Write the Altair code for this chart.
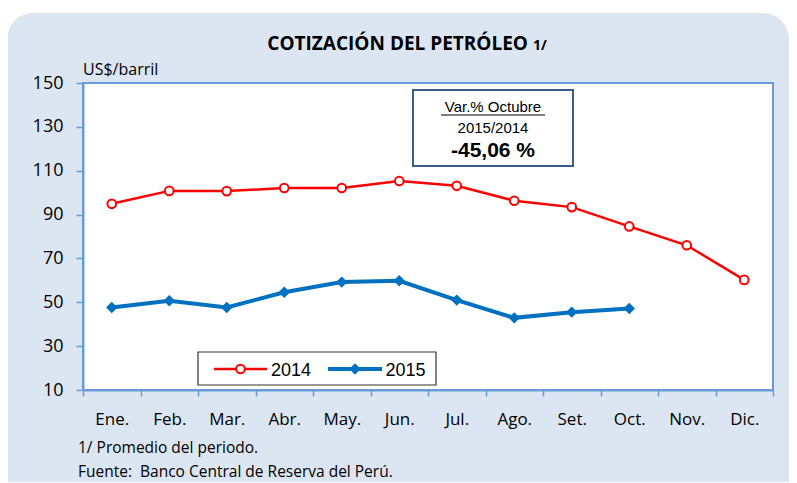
import altair as alt
import pandas as pd

months = ["Ene.", "Feb.", "Mar.", "Abr.", "May.", "Jun.", "Jul.", "Ago.", "Set.", "Oct.", "Nov.", "Dic."]
y2014 = [94.9, 100.8, 100.7, 102.1, 102.1, 105.3, 103.1, 96.3, 93.4, 84.6, 76.0, 60.2]
y2015 = [47.6, 50.7, 47.6, 54.6, 59.2, 59.8, 51.0, 42.9, 45.5, 47.2]
y_ticks = [10, 30, 50, 70, 90, 110, 130, 150]
legend_labels = ["2014", "2015"]
box_lines = ["Var.% Octubre", "2015/2014", "-45,06 %"]
title_text = "COTIZACIÓN DEL PETRÓLEO"
title_note = "1/"
unit_text = "US$/barril"
notes = ["1/ Promedio del periodo.", "Fuente:\u00a0 Banco Central de Reserva del Perú."]

W, H = 690, 307
FONT = "Open Sans"
ARIAL = "Liberation Sans"
AXIS_COLOR = "#6A9AD9"
PANEL = "#DCE6F2"
RED = "#FF0000"
BLUE = "#0070C0"

d14 = pd.DataFrame({"mes": months, "valor": y2014})
d15 = pd.DataFrame({"mes": months[:len(y2015)], "valor": y2015})
one = pd.DataFrame({"k": [0]})

xenc = alt.X(
    "mes:N", sort=months,
    scale=alt.Scale(type="band", domain=months, paddingInner=0, paddingOuter=0),
    axis=alt.Axis(title=None, labelAngle=0, labelFont=FONT, labelFontSize=17, labelColor="black",
                  labelPadding=15, tickBand="extent", tickSize=6, tickColor=AXIS_COLOR, tickWidth=1.5,
                  domainColor=AXIS_COLOR, domainWidth=2, grid=False, zindex=1),
)
yenc = alt.Y(
    "valor:Q",
    scale=alt.Scale(domain=[10, 150], nice=False, zero=False),
    axis=alt.Axis(title=None, values=y_ticks, labelFont=FONT, labelFontSize=18, labelColor="black",
                  labelPadding=13, tickSize=7, tickColor=AXIS_COLOR, tickWidth=1.5,
                  domainColor=AXIS_COLOR, domainWidth=2, grid=False, zindex=1),
)

panel = alt.Chart(one).mark_rect(fill=PANEL, cornerRadius=26).encode(
    x=alt.value(-76), x2=alt.value(706), y=alt.value(-70), y2=alt.value(430))
plot_bg = alt.Chart(one).mark_rect(fill="white", stroke=AXIS_COLOR, strokeWidth=2).encode(
    x=alt.value(0), x2=alt.value(W), y=alt.value(0), y2=alt.value(H))

line14 = alt.Chart(d14).mark_line(color=RED, strokeWidth=2.5).encode(x=xenc, y=yenc)
pts14 = alt.Chart(d14).mark_point(shape="circle", filled=True, fill="white", stroke=RED,
                                  strokeWidth=2, size=75, opacity=1).encode(x=xenc, y=yenc)
line15 = alt.Chart(d15).mark_line(color=BLUE, strokeWidth=4).encode(x=xenc, y=yenc)
pts15 = alt.Chart(d15).mark_point(shape="diamond", filled=True, color=BLUE, size=130,
                                  opacity=1).encode(x=xenc, y=yenc)

# Annotation box
box = alt.Chart(one).mark_rect(fill="white", stroke="#385D8A", strokeWidth=2).encode(
    x=alt.value(330), x2=alt.value(490), y=alt.value(7), y2=alt.value(83))
box_t1 = alt.Chart(one).mark_text(text=box_lines[0], font=ARIAL, fontSize=15, align="center",
                                  baseline="alphabetic", color="black").encode(x=alt.value(410), y=alt.value(29))
box_ul = alt.Chart(one).mark_rule(color="black", strokeWidth=1.2).encode(
    x=alt.value(358), x2=alt.value(462), y=alt.value(32))
box_t2 = alt.Chart(one).mark_text(text=box_lines[1], font=ARIAL, fontSize=15, align="center",
                                  baseline="alphabetic", color="black").encode(x=alt.value(410), y=alt.value(50))
box_t3 = alt.Chart(one).mark_text(text=box_lines[2], font=ARIAL, fontSize=21, fontWeight="bold",
                                  align="center", baseline="alphabetic", color="black").encode(
    x=alt.value(410), y=alt.value(74))

# Legend
leg_box = alt.Chart(one).mark_rect(fill="white", stroke="#333333", strokeWidth=1.2).encode(
    x=alt.value(115), x2=alt.value(353), y=alt.value(269), y2=alt.value(302))
leg_l1 = alt.Chart(one).mark_rule(color=RED, strokeWidth=2.5).encode(
    x=alt.value(131), x2=alt.value(184), y=alt.value(286))
leg_p1 = alt.Chart(one).mark_point(shape="circle", filled=True, fill="white", stroke=RED,
                                   strokeWidth=2, size=75, opacity=1).encode(x=alt.value(157.5), y=alt.value(286))
leg_t1 = alt.Chart(one).mark_text(text=legend_labels[0], font=ARIAL, fontSize=18, align="left",
                                  baseline="alphabetic", color="black").encode(x=alt.value(188), y=alt.value(292.5))
leg_l2 = alt.Chart(one).mark_rule(color=BLUE, strokeWidth=4).encode(
    x=alt.value(245), x2=alt.value(299), y=alt.value(286))
leg_p2 = alt.Chart(one).mark_point(shape="diamond", filled=True, color=BLUE, size=130,
                                   opacity=1).encode(x=alt.value(272), y=alt.value(286))
leg_t2 = alt.Chart(one).mark_text(text=legend_labels[1], font=ARIAL, fontSize=18, align="left",
                                  baseline="alphabetic", color="black").encode(x=alt.value(302.5), y=alt.value(292.5))

# Titles and notes
title = alt.Chart(one).mark_text(text=title_text, font=FONT, fontSize=19, fontWeight="bold",
                                 align="right", baseline="alphabetic", color="black").encode(
    x=alt.value(445), y=alt.value(-33))
title2 = alt.Chart(one).mark_text(text=title_note, font=FONT, fontSize=14, fontWeight="bold",
                                  align="left", baseline="alphabetic", color="black").encode(
    x=alt.value(450), y=alt.value(-33))
unit = alt.Chart(one).mark_text(text=unit_text, font=FONT, fontSize=16, align="left",
                                baseline="alphabetic", color="black").encode(x=alt.value(0), y=alt.value(-8))
note1 = alt.Chart(one).mark_text(text=notes[0], font=FONT, fontSize=15.5, align="left",
                                 baseline="alphabetic", color="black").encode(x=alt.value(-5), y=alt.value(370))
note2 = alt.Chart(one).mark_text(text=notes[1], font=FONT, fontSize=15.5, align="left",
                                 baseline="alphabetic", color="black").encode(x=alt.value(-5), y=alt.value(394))

chart = alt.layer(
    panel, plot_bg, line14, pts14, line15, pts15,
    box, box_t1, box_ul, box_t2, box_t3,
    leg_box, leg_l1, leg_p1, leg_t1, leg_l2, leg_p2, leg_t2,
    title, title2, unit, note1, note2,
).properties(
    width=W, height=H,
    autosize=alt.AutoSizeParams(type="none"),
    padding={"left": 75, "top": 75, "right": 16, "bottom": 92},
    background="white",
).configure_view(strokeOpacity=0)

chart.save("out.html", embed_options={"renderer": "svg", "actions": False})
